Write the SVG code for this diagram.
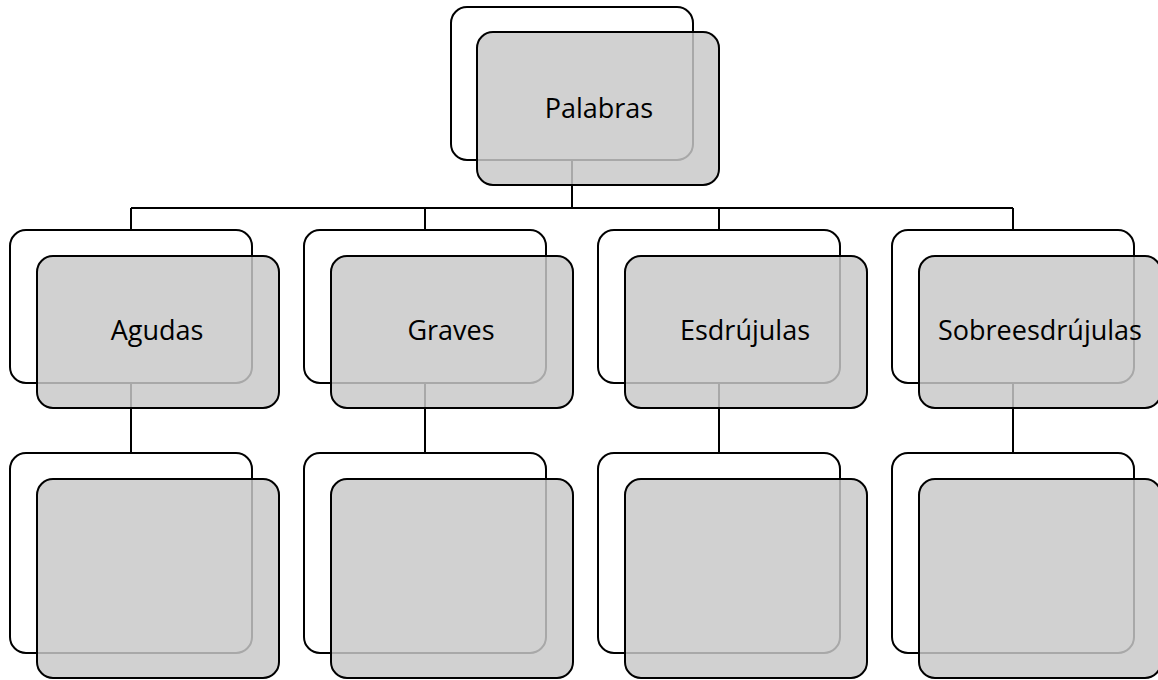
<svg xmlns="http://www.w3.org/2000/svg" width="1158" height="680" viewBox="0 0 1158 680">
<style>
.back{fill:#ffffff;stroke:#000;stroke-width:2}
.front{fill:#c8c8c8;fill-opacity:0.84;stroke:#000;stroke-width:2}
.conn{fill:none;stroke:#000;stroke-width:2}
.lbl{font-family:"Open Sans","Liberation Sans",sans-serif;font-size:27px;fill:#000;text-anchor:middle}
</style>
<rect width="1158" height="680" fill="#fff"/>
<g id="connectors">
<path class="conn" d="M572 160V208M131 208H1013M131 208V230M425 208V230M719 208V230M1013 208V230"/>
<path class="conn" d="M131 383V453M425 383V453M719 383V453M1013 383V453"/>
</g>
<g id="palabras">
<rect class="back" x="451" y="7" width="242" height="153" rx="16"/>
<rect class="front" x="477" y="32" width="242" height="153" rx="16"/>
<text class="lbl" x="599" y="118">Palabras</text>
</g>
<g id="agudas">
<rect class="back" x="10" y="230" width="242" height="153" rx="16"/>
<rect class="front" x="37" y="256" width="242" height="152" rx="16"/>
<text class="lbl" x="157" y="340">Agudas</text>
</g>
<g id="graves">
<rect class="back" x="304" y="230" width="242" height="153" rx="16"/>
<rect class="front" x="331" y="256" width="242" height="152" rx="16"/>
<text class="lbl" x="451" y="340">Graves</text>
</g>
<g id="esdrujulas">
<rect class="back" x="598" y="230" width="242" height="153" rx="16"/>
<rect class="front" x="625" y="256" width="242" height="152" rx="16"/>
<text class="lbl" x="745" y="340">Esdrújulas</text>
</g>
<g id="sobreesdrujulas">
<rect class="back" x="892" y="230" width="242" height="153" rx="16"/>
<rect class="front" x="919" y="256" width="242" height="152" rx="16"/>
<text class="lbl" x="1040" y="340">Sobreesdrújulas</text>
</g>
<g id="agudas-child">
<rect class="back" x="10" y="453" width="242" height="200" rx="16"/>
<rect class="front" x="37" y="479" width="242" height="199" rx="16"/>
</g>
<g id="graves-child">
<rect class="back" x="304" y="453" width="242" height="200" rx="16"/>
<rect class="front" x="331" y="479" width="242" height="199" rx="16"/>
</g>
<g id="esdrujulas-child">
<rect class="back" x="598" y="453" width="242" height="200" rx="16"/>
<rect class="front" x="625" y="479" width="242" height="199" rx="16"/>
</g>
<g id="sobreesdrujulas-child">
<rect class="back" x="892" y="453" width="242" height="200" rx="16"/>
<rect class="front" x="919" y="479" width="242" height="199" rx="16"/>
</g>
</svg>
